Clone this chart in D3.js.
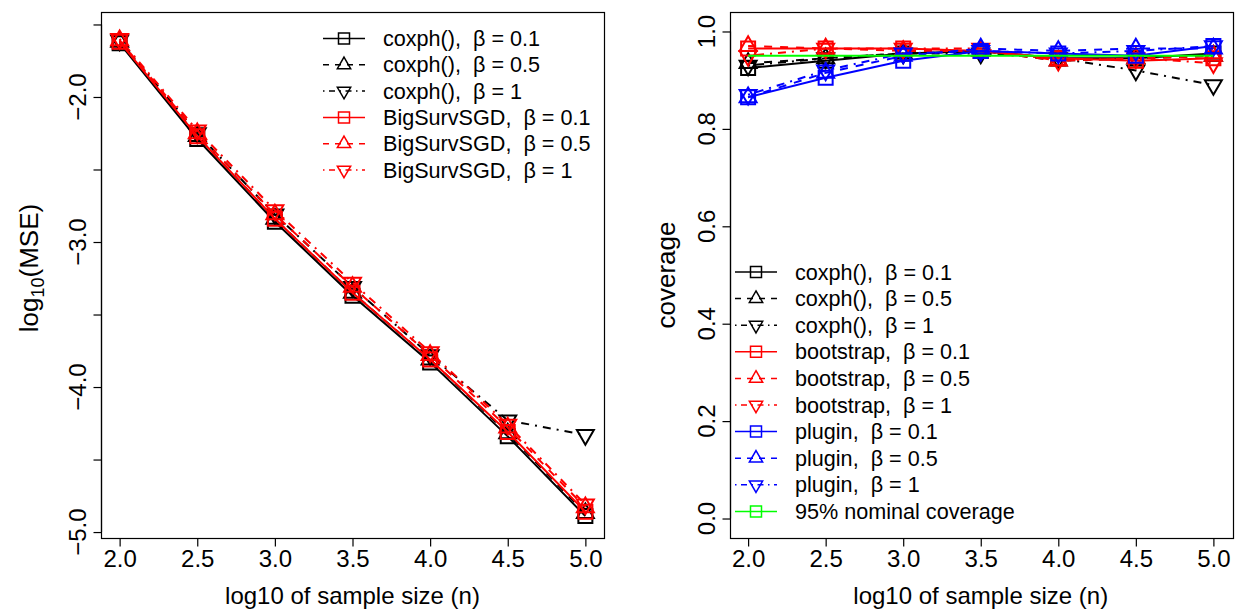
<!DOCTYPE html>
<html>
<head>
<meta charset="utf-8">
<script src="https://cdn.jsdelivr.net/npm/d3@7"></script>
<style>
  body { margin: 0; background: #fff; }
  text { font-family: "Liberation Sans", Arial, sans-serif; fill: #000; }
</style>
</head>
<body>
<div id="viz"></div>
<script>
// sample sizes on the log10 scale
const logN = [2.0, 2.5, 3.0, 3.5, 4.0, 4.5, 5.0]

// left panel: log10(MSE)
const mseCoxph01 = [-1.63, -2.29, -2.86, -3.37, -3.83, -4.34, -4.89]
const mseCoxph05 = [-1.62, -2.27, -2.84, -3.35, -3.81, -4.32, -4.87]
const mseCoxph1  = [-1.61, -2.25, -2.81, -3.31, -3.78, -4.23, -4.33]
const mseSgd01   = [-1.62, -2.27, -2.84, -3.35, -3.81, -4.31, -4.86]
const mseSgd05   = [-1.61, -2.25, -2.81, -3.31, -3.78, -4.28, -4.83]
const mseSgd1    = [-1.60, -2.23, -2.78, -3.28, -3.76, -4.26, -4.81]

// right panel: coverage
const covCoxph01 = [0.925, 0.940, 0.955, 0.960, 0.945, 0.945, 0.955]
const covCoxph05 = [0.935, 0.945, 0.955, 0.960, 0.940, 0.945, 0.950]
const covCoxph1  = [0.930, 0.945, 0.955, 0.955, 0.945, 0.920, 0.890]
const covBoot01  = [0.965, 0.965, 0.965, 0.960, 0.945, 0.940, 0.945]
const covBoot05  = [0.970, 0.965, 0.960, 0.960, 0.940, 0.945, 0.950]
const covBoot1   = [0.950, 0.965, 0.965, 0.965, 0.940, 0.945, 0.935]
const covPlug01  = [0.865, 0.905, 0.940, 0.960, 0.955, 0.950, 0.970]
const covPlug05  = [0.865, 0.915, 0.950, 0.965, 0.960, 0.965, 0.965]
const covPlug1   = [0.870, 0.920, 0.955, 0.960, 0.955, 0.960, 0.970]
const covNominal = [0.95, 0.95, 0.95, 0.95, 0.95, 0.95, 0.95]

const xTicks = [2.0, 2.5, 3.0, 3.5, 4.0, 4.5, 5.0]
const leftYTicks = [-1.5, -2.0, -2.5, -3.0, -3.5, -4.0, -4.5, -5.0]
const leftYLabels = [-2.0, -3.0, -4.0, -5.0]
const rightYTicks = [0.0, 0.2, 0.4, 0.6, 0.8, 1.0]

// two spaces after the comma, as in the original
const sp = ',\u00a0 '
const leftLabels = [`coxph()${sp}β = 0.1`, `coxph()${sp}β = 0.5`, `coxph()${sp}β = 1`,
  `BigSurvSGD${sp}β = 0.1`, `BigSurvSGD${sp}β = 0.5`, `BigSurvSGD${sp}β = 1`]
const rightLabels = [`coxph()${sp}β = 0.1`, `coxph()${sp}β = 0.5`, `coxph()${sp}β = 1`,
  `bootstrap${sp}β = 0.1`, `bootstrap${sp}β = 0.5`, `bootstrap${sp}β = 1`,
  `plugin${sp}β = 0.1`, `plugin${sp}β = 0.5`, `plugin${sp}β = 1`, '95% nominal coverage']

// styles per series: colour, line type, marker
const black = '#000', red = '#ff0000', blue = '#0000ff', green = '#00ff00'
const leftSeries = [
  {v: mseCoxph01, col: black, lty: 'solid', pch: 'square'},
  {v: mseCoxph05, col: black, lty: 'dashed', pch: 'up'},
  {v: mseCoxph1,  col: black, lty: 'dotdash', pch: 'down'},
  {v: mseSgd01,   col: red,   lty: 'solid', pch: 'square'},
  {v: mseSgd05,   col: red,   lty: 'dashed', pch: 'up'},
  {v: mseSgd1,    col: red,   lty: 'dotdash', pch: 'down'},
]
const rightSeries = [
  {v: covCoxph01, col: black, lty: 'solid', pch: 'square'},
  {v: covCoxph05, col: black, lty: 'dashed', pch: 'up'},
  {v: covCoxph1,  col: black, lty: 'dotdash', pch: 'down'},
  {v: covBoot01,  col: red,   lty: 'solid', pch: 'square'},
  {v: covBoot05,  col: red,   lty: 'dashed', pch: 'up'},
  {v: covBoot1,   col: red,   lty: 'dotdash', pch: 'down'},
  {v: covPlug01,  col: blue,  lty: 'solid', pch: 'square'},
  {v: covPlug05,  col: blue,  lty: 'dashed', pch: 'up'},
  {v: covPlug1,   col: blue,  lty: 'dotdash', pch: 'down'},
  {v: covNominal, col: green, lty: 'solid', pch: 'square', noPoints: true},
]

const dash = (lty, lwd) => lty === 'dashed' ? `${4*lwd},${4*lwd}`
  : lty === 'dotdash' ? `${1*lwd},${3*lwd},${4*lwd},${3*lwd}` : null

function marker(pch, s) {
  // s = size unit; triangles like R's pch 2 / 6
  if (pch === 'square') return `M${-s},${-s}H${s}V${s}H${-s}Z`
  const r = s * 1.4, xc = r * Math.sqrt(3) / 2, yc = r / 2
  if (pch === 'up') return `M0,${-r}L${xc},${yc}L${-xc},${yc}Z`
  return `M0,${r}L${xc},${-yc}L${-xc},${-yc}Z`
}

const fontTick = 24, fontXLab = 24, fontYLab = 26, fontLeg = 21.6

const svg = d3.select('#viz').append('svg')
  .attr('width', 1239).attr('height', 611)

function panel(opts) {
  const g = svg.append('g')
  const x = d3.scaleLinear().domain([1.88, 5.12]).range(opts.xRange)
  const y = d3.scaleLinear().domain(opts.yDomain).range([538, 12])

  // series lines then points
  const line = d3.line().x((d, i) => x(logN[i])).y(d => y(d))
  opts.series.forEach(s => {
    g.append('path')
      .attr('d', line(s.v))
      .attr('fill', 'none')
      .attr('stroke', s.col)
      .attr('stroke-width', 2)
      .attr('stroke-dasharray', dash(s.lty, 2))
    if (s.noPoints) return
    g.selectAll(null).data(s.v).join('path')
      .attr('transform', (d, i) => `translate(${x(logN[i])},${y(d)})`)
      .attr('d', marker(s.pch, 7))
      .attr('fill', 'none')
      .attr('stroke', s.col)
      .attr('stroke-width', 2)
  })

  // box
  g.append('rect')
    .attr('x', Math.round(opts.xRange[0]) + 0.5).attr('y', 12.5)
    .attr('width', Math.round(opts.xRange[1] - opts.xRange[0]))
    .attr('height', 526)
    .attr('fill', 'none').attr('stroke', '#000').attr('stroke-width', 1.2)

  // x axis
  const xAxis = g.append('g').attr('transform', 'translate(0,538.5)')
    .call(d3.axisBottom(x).tickValues(xTicks).tickSize(8).tickPadding(3)
      .tickFormat(d3.format('.1f')))
  xAxis.select('.domain').attr('d', `M${x(2)},0H${x(5)}`).attr('stroke-width', 1.2)
  xAxis.selectAll('.tick line').attr('stroke-width', 1.2)
  xAxis.selectAll('.tick text').attr('font-size', fontTick)
    .attr('font-family', '"Liberation Sans", Arial, sans-serif').attr('fill', '#000')

  // y axis, labels turned parallel to the axis
  const left = Math.round(opts.xRange[0]) + 0.5
  const yAxis = g.append('g').attr('transform', `translate(${left},0)`)
    .call(d3.axisLeft(y).tickValues(opts.yTicks).tickSize(8).tickFormat(''))
  yAxis.select('.domain').attr('d', `M0,${y(d3.min(opts.yTicks))}V${y(d3.max(opts.yTicks))}`)
    .attr('stroke-width', 1.2)
  yAxis.selectAll('.tick line').attr('stroke-width', 1.2)
  g.selectAll(null).data(opts.yLabels).join('text')
    .attr('transform', d => `translate(${left - 16},${y(d)}) rotate(-90)`)
    .attr('text-anchor', 'middle')
    .attr('font-size', fontTick)
    .text(d => d3.format('.1f')(d))

  // axis titles
  g.append('text')
    .attr('x', (x(2) + x(5)) / 2).attr('y', 604)
    .attr('text-anchor', 'middle').attr('font-size', fontXLab)
    .text('log10 of sample size (n)')
  const yt = g.append('text')
    .attr('transform', `translate(${left - opts.yTitleGap},${opts.yTitleY}) rotate(-90)`)
    .attr('text-anchor', 'middle').attr('font-size', fontYLab)
  opts.yTitle(yt)

  // legend
  const leg = g.append('g')
  opts.legLabels.forEach((lab, i) => {
    const s = opts.series[i]
    const cy = opts.legY + i * opts.legStep
    const lx = opts.legX
    leg.append('line')
      .attr('x1', lx).attr('x2', lx + 42).attr('y1', cy).attr('y2', cy)
      .attr('stroke', s.col).attr('stroke-width', 1.5)
      .attr('stroke-dasharray', dash(s.lty, 1.5))
    leg.append('path')
      .attr('transform', `translate(${lx + 21},${cy})`)
      .attr('d', marker(s.pch, 5.5))
      .attr('fill', 'none').attr('stroke', s.col).attr('stroke-width', 1.5)
    leg.append('text')
      .attr('x', lx + 60).attr('y', cy + 7.5)
      .attr('font-size', fontLeg)
      .text(lab)
  })
}

panel({
  xRange: [101, 604],
  yDomain: [-5.041, -1.414],
  yTicks: leftYTicks,
  yLabels: leftYLabels,
  series: leftSeries,
  legLabels: leftLabels,
  legX: 323, legY: 38.5, legStep: 26.3,
  yTitleY: 268, yTitleGap: 64,
  yTitle: t => {
    t.append('tspan').text('log')
    t.append('tspan').attr('font-size', 18).attr('dy', 6).text('10')
    t.append('tspan').attr('dy', -6).text('(MSE)')
  }
})

panel({
  xRange: [729.5, 1232],
  yDomain: [-0.04, 1.04],
  yTicks: rightYTicks,
  yLabels: rightYTicks,
  series: rightSeries,
  legLabels: rightLabels,
  legX: 735, legY: 272, legStep: 26.6,
  yTitleY: 275, yTitleGap: 56,
  yTitle: t => t.text('coverage')
})
</script>
</body>
</html>
